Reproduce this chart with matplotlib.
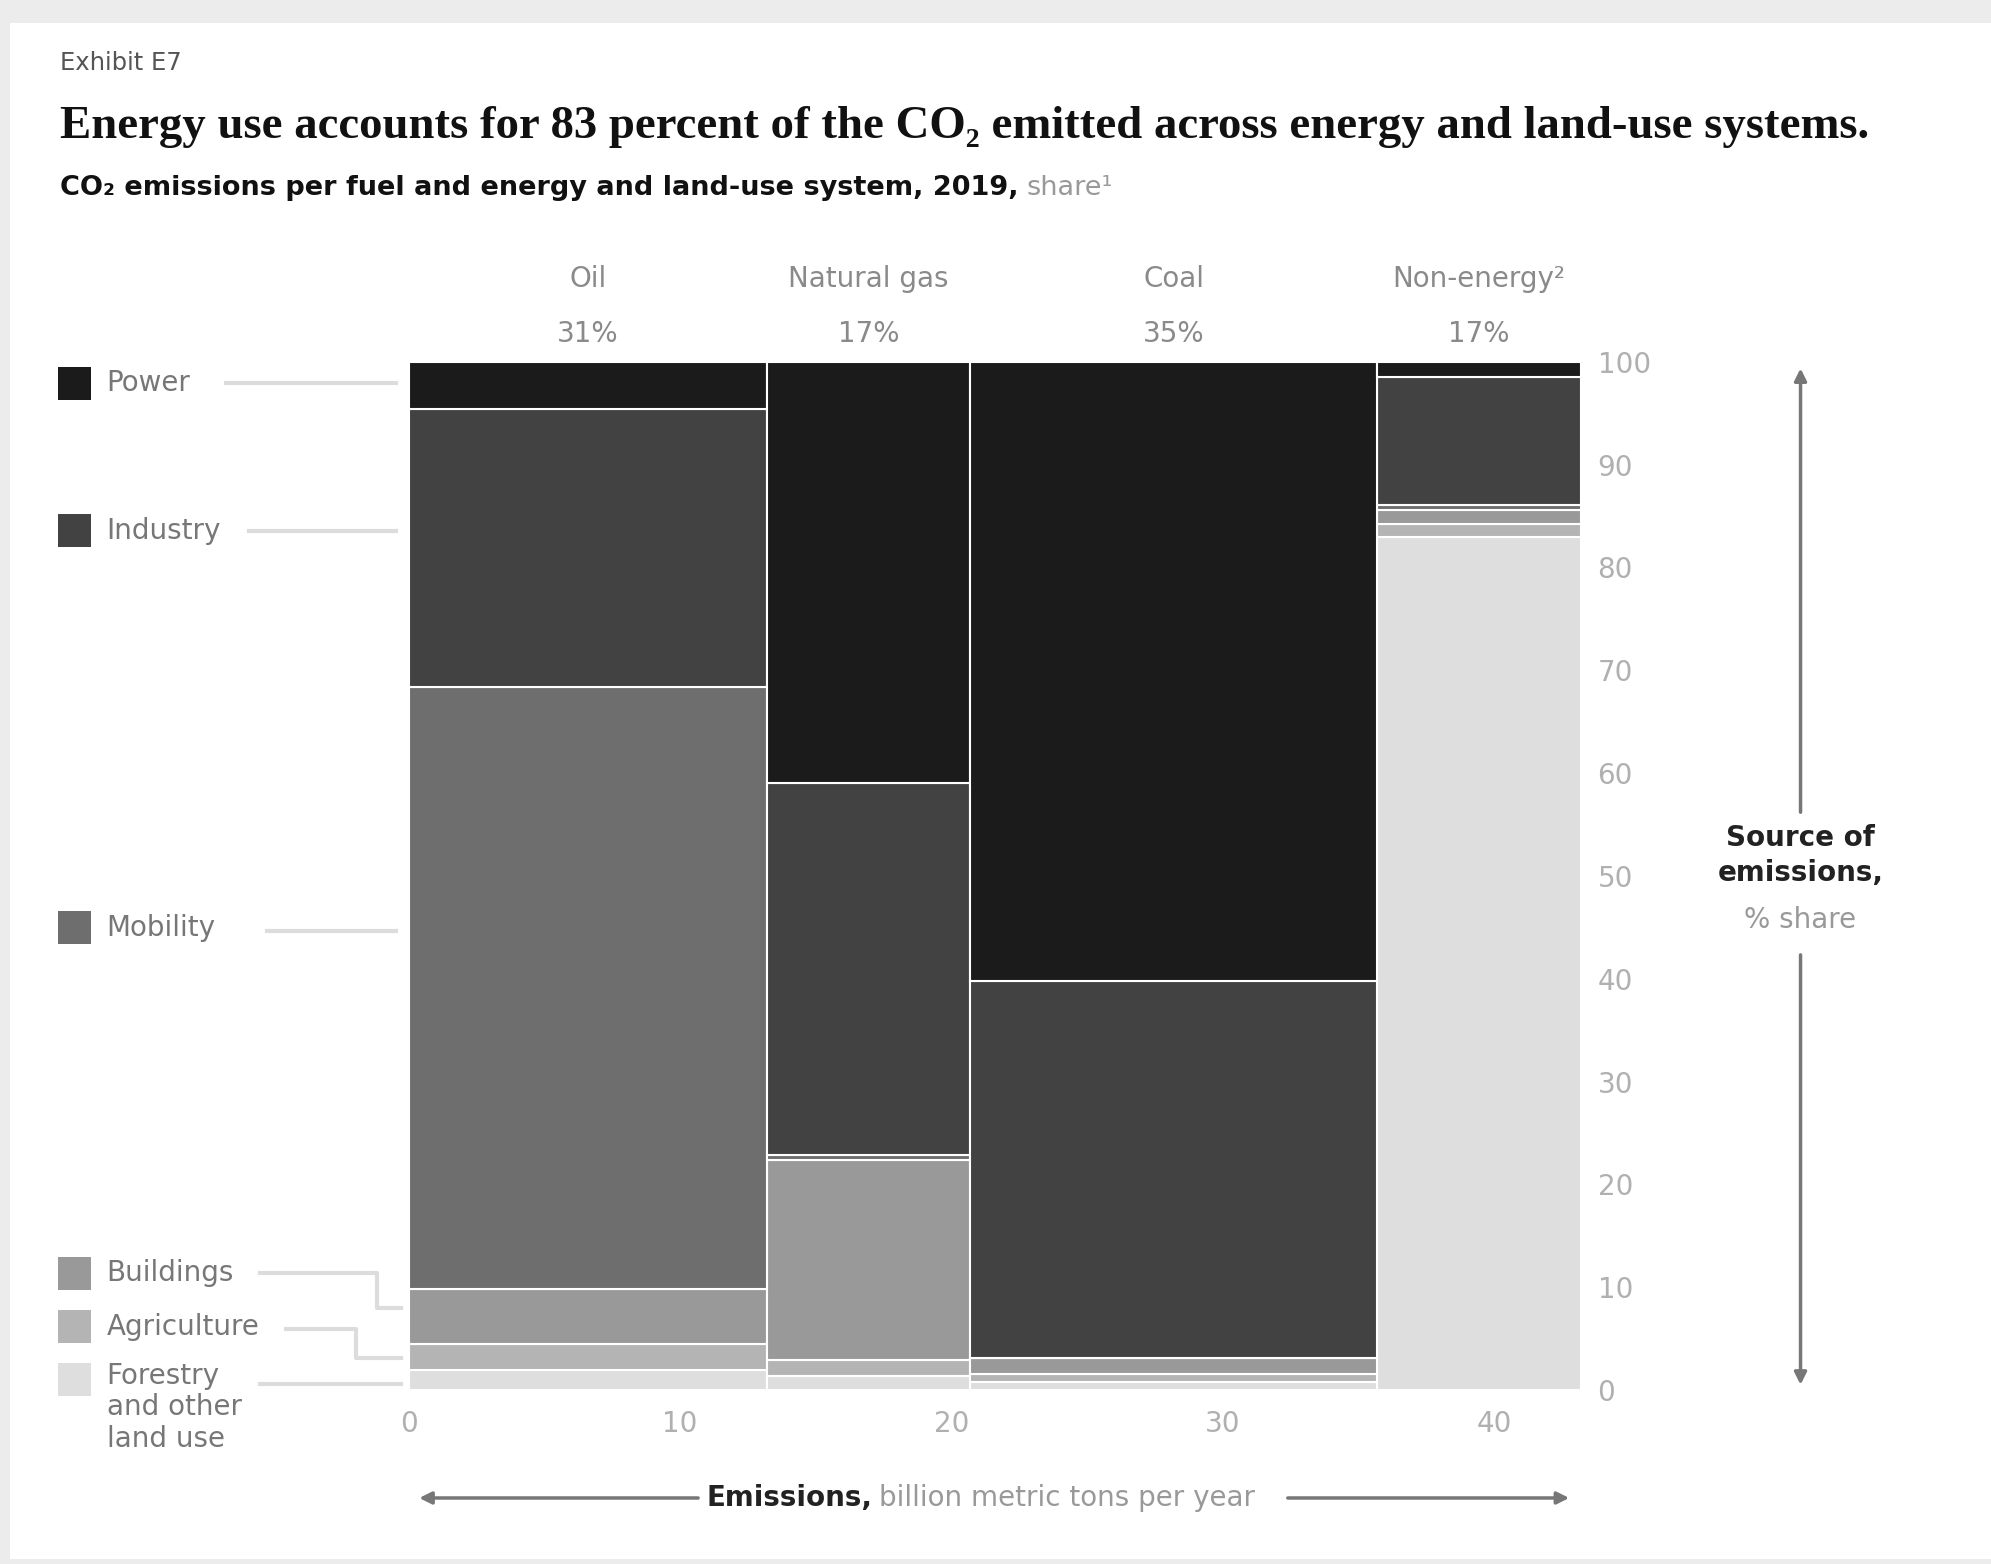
import numpy as np
import matplotlib.pyplot as plt
from matplotlib.patches import Rectangle, FancyArrowPatch
from matplotlib.transforms import blended_transform_factory

# Data
fuels = ["Oil", "Natural gas", "Coal", "Non-energy²"]
fuel_share_labels = ["31%", "17%", "35%", "17%"]
fuel_emissions = [13.2, 7.5, 15.0, 7.5]  # billion metric tons per year

sectors = ["Power", "Industry", "Mobility", "Buildings", "Agriculture",
           "Forestry\nand other\nland use"]
# share of each fuel's emissions by source, %
power = [4.6, 41.0, 60.2, 1.5]
industry = [27.0, 36.1, 36.7, 12.4]
mobility = [58.6, 0.5, 0.0, 0.5]
buildings = [5.3, 19.5, 1.5, 1.4]
agriculture = [2.5, 1.5, 0.8, 1.2]
forestry = [2.0, 1.4, 0.8, 83.0]

x_ticks = [0, 10, 20, 30, 40]
y_ticks = list(range(0, 101, 10))

colors = ["#1b1b1b", "#424242", "#6e6e6e", "#999999", "#b4b4b4", "#dedede"]

# layout helpers (positions measured on a 1568 x 1232 grid)
GW, GH = 1568, 1232


def fx(x):
    return x / GW


def fy(y):
    return 1 - y / GH


fig = plt.figure(figsize=(19.91, 15.64), dpi=100, facecolor="#ececec")
fig.patches.append(Rectangle((fx(8), fy(1228)), 1 - fx(8), fy(18) - fy(1228),
                             transform=fig.transFigure, facecolor="white",
                             edgecolor="none", zorder=-5))

ax = fig.add_axes([fx(322), fy(1095), fx(1245) - fx(322), fy(285) - fy(1095)])
ax.set_zorder(2)

shares = [power, industry, mobility, buildings, agriculture, forestry]
widths = np.array(fuel_emissions)
lefts = np.concatenate([[0], np.cumsum(widths)[:-1]])
bottom = np.zeros(len(fuels))
for vals, col in zip(shares[::-1], colors[::-1]):
    vals = np.array(vals)
    ax.bar(lefts, vals, width=widths, bottom=bottom, align="edge",
           color=col, edgecolor="white", linewidth=1.5)
    bottom += vals

ax.set_xlim(0, widths.sum())
ax.set_ylim(0, 100)
ax.set_xticks(x_ticks)
ax.set_yticks(y_ticks)
ax.yaxis.tick_right()
ax.tick_params(axis="x", length=0, labelsize=20, labelcolor="#b0b0b0", pad=14)
ax.tick_params(axis="y", length=0, labelsize=20, labelcolor="#b0b0b0", pad=12)
for s in ax.spines.values():
    s.set_visible(False)

# column headers
hdr = blended_transform_factory(ax.transData, fig.transFigure)
for left, w, name, share in zip(lefts, widths, fuels, fuel_share_labels):
    ax.text(left + w / 2, fy(220), name, transform=hdr, ha="center",
            va="center", fontsize=20, color="#8a8a8a", clip_on=False)
    ax.text(left + w / 2, fy(263), share, transform=hdr, ha="center",
            va="center", fontsize=20, color="#8a8a8a", clip_on=False)

# legend on the left
legend_y = [302, 418, 731, 1003, 1045, 1087]
for name, col, y in zip(sectors, colors, legend_y):
    fig.patches.append(Rectangle((fx(46), fy(y + 13)), fx(26), 26 / GH,
                                 transform=fig.transFigure, facecolor=col,
                                 edgecolor="none"))
    if "\n" in name:
        fig.text(fx(84), fy(y - 14), name, ha="left", va="top", fontsize=20,
                 color="#777777", linespacing=1.15)
    else:
        fig.text(fx(84), fy(y), name, ha="left", va="center", fontsize=20,
                 color="#777777")

lead = dict(color="#dcdcdc", lw=3, transform=fig.transFigure, clip_on=False)
leaders = [
    [(178, 302), (312, 302)],
    [(196, 418), (312, 418)],
    [(210, 733), (312, 733)],
    [(205, 1003), (297, 1003), (297, 1030), (316, 1030)],
    [(225, 1047), (280, 1047), (280, 1070), (316, 1070)],
    [(205, 1090), (316, 1090)],
]
for pts in leaders:
    xs = [fx(p[0]) for p in pts]
    ys = [fy(p[1]) for p in pts]
    fig.add_artist(plt.Line2D(xs, ys, **lead))

# right-side arrow
arrow_kw = dict(arrowstyle="-|>", color="#777777", lw=2.5, mutation_scale=18,
                transform=fig.transFigure)
fig.add_artist(FancyArrowPatch((fx(1418), fy(642)), (fx(1418), fy(288)), **arrow_kw))
fig.add_artist(FancyArrowPatch((fx(1418), fy(750)), (fx(1418), fy(1093)), **arrow_kw))
fig.text(fx(1418), fy(674), "Source of\nemissions,", ha="center", va="center",
         fontsize=20, fontweight="bold", color="#222222", linespacing=1.3)
fig.text(fx(1418), fy(725), "% share", ha="center", va="center",
         fontsize=20, color="#999999")

# bottom arrow
fig.add_artist(FancyArrowPatch((fx(552), fy(1180)), (fx(328), fy(1180)), **arrow_kw))
fig.add_artist(FancyArrowPatch((fx(1012), fy(1180)), (fx(1238), fy(1180)), **arrow_kw))
fig.text(fx(687), fy(1180), "Emissions,", ha="right", va="center", fontsize=20,
         fontweight="bold", color="#222222")
fig.text(fx(692), fy(1180), "billion metric tons per year", ha="left",
         va="center", fontsize=20, color="#999999")

# titles
fig.text(fx(47), fy(50), "Exhibit E7", ha="left", va="center", fontsize=17.5,
         color="#555555")
fig.text(fx(47), fy(100),
         "Energy use accounts for 83 percent of the CO₂ emitted across energy and land-use systems.",
         ha="left", va="center", fontsize=33.7, family="Liberation Serif",
         fontweight="bold", color="#111111")
sub = fig.text(fx(47), fy(148),
               "CO₂ emissions per fuel and energy and land-use system, 2019,",
               ha="left", va="center", fontsize=19.5, fontweight="bold",
               color="#111111")
fig.canvas.draw()
bb = sub.get_window_extent().transformed(fig.transFigure.inverted())
fig.text(bb.x1 + 0.004, fy(148), "share¹", ha="left", va="center",
         fontsize=19.5, color="#999999")

fig.savefig("out.png", dpi=100, facecolor=fig.get_facecolor())
